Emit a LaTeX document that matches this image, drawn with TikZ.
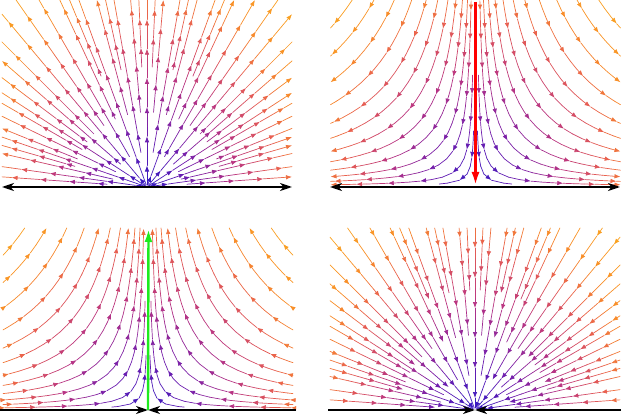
\documentclass[tikz,border=0pt]{standalone}
\usetikzlibrary{arrows.meta}
\definecolor{c0}{RGB}{50,25,195}
\definecolor{c1}{RGB}{115,30,172}
\definecolor{c2}{RGB}{185,52,130}
\definecolor{c3}{RGB}{232,95,80}
\definecolor{c4}{RGB}{248,140,42}
\definecolor{c5}{RGB}{250,168,30}
\definecolor{brightgreen}{RGB}{30,235,30}
\newcount\segc
\def\Wd{145}
\def\Ht{187}
\tikzset{
  sl/.style={draw=sc, line width=0.7pt, line cap=round},
  axisline/.style={line width=1.8pt, draw=black},
  axboth/.style={{Stealth[length=12pt,width=8pt,inset=3.5pt]}-{Stealth[length=12pt,width=8pt,inset=3.5pt]}},
  axone/.style={-{Stealth[length=12pt,width=8pt,inset=3.5pt]}},
  bigarrow/.style={line width=2.4pt, -{Latex[length=13pt,width=8pt]}}
}
\newcommand\sseg[5]{%
  \pgfmathsetmacro\myr{veclen(((#1)+(#3))/2/\Wd,((#2)+(#4))/2/\Ht)}%
  \pgfmathsetmacro\mytq{\myr<0.3 ? \myr/0.3 : (\myr<0.6 ? 1+(\myr-0.3)/0.3 : (\myr<0.9 ? 2+(\myr-0.6)/0.3 : (\myr<1.1 ? 3+(\myr-0.9)/0.2 : min(4.999,4+(\myr-1.1)/0.32))))}%
  \pgfmathtruncatemacro\myi{floor(\mytq)}%
  \pgfmathtruncatemacro\myp{round(100*(\mytq-\myi))}%
  \pgfmathtruncatemacro\myj{\myi+1}%
  \colorlet{sc}{c\myj!\myp!c\myi}%
  \ifcase#5\relax
    \draw[sl] (#1,#2)--(#3,#4);%
  \or
    \draw[sl,-{Latex[length=6pt,width=4.5pt]}] (#1,#2)--(#3,#4);%
  \or
    \draw[sl,{Latex[length=6pt,width=4.5pt]}-] (#1,#2)--(#3,#4);%
  \fi}
\newcommand\ray[4]{%
  \pgfmathsetmacro\rayc{cos(#1)}%
  \pgfmathsetmacro\rays{sin(#1)}%
  \pgfmathsetmacro\rayL{min(\Wd/max(abs(\rayc),0.01),\Ht/max(\rays,0.02))}%
  \pgfmathtruncatemacro\rayn{max(1,ceil((\rayL-(#2))/10))}%
  \pgfmathsetmacro\rayd{(\rayL-(#2))/\rayn}%
  \foreach \k in {1,...,\rayn}{%
    \pgfmathsetmacro\sA{(#2)+(\k-1)*\rayd}%
    \pgfmathsetmacro\sB{(#2)+\k*\rayd}%
    \pgfmathsetmacro\xA{\sA*\rayc}\pgfmathsetmacro\yA{\sA*\rays}%
    \pgfmathsetmacro\xB{\sB*\rayc}\pgfmathsetmacro\yB{\sB*\rays}%
    \pgfmathtruncatemacro\am{mod(\k+(#4),3)==0 ? (#3) : 0}%
    \sseg{\xA}{\yA}{\xB}{\yB}{\am}%
  }}
% c, v0, umax, sign, mode, phase
\newcommand\hyp[6]{%
  \begingroup
  \pgfmathsetmacro\hp{sqrt(#1)}%
  \pgfmathsetmacro\tcur{ln(\hp/(#2))}%
  \pgfmathsetmacro\tend{ln((#3)/\hp)}%
  \pgfmathsetmacro\Xa{(#4)*\Wd*\hp*exp(\tcur)}%
  \pgfmathsetmacro\Ya{\Ht*\hp*exp(-(\tcur))}%
  \segc=#6\relax
  \loop
    \pgfmathsetmacro\hdt{10/(\Wd*veclen(\hp*exp(\tcur),\Ht/\Wd*\hp*exp(-(\tcur))))}%
    \pgfmathsetmacro\tnext{min(\tcur+\hdt,\tend)}%
    \pgfmathsetmacro\Xb{(#4)*\Wd*\hp*exp(\tnext)}%
    \pgfmathsetmacro\Yb{\Ht*\hp*exp(-(\tnext))}%
    \pgfmathtruncatemacro\am{mod(\segc,3)==0 ? (#5) : 0}%
    \sseg{\Xa}{\Ya}{\Xb}{\Yb}{\am}%
    \let\Xa\Xb \let\Ya\Yb \let\tcur\tnext
    \advance\segc by 1
  \ifdim\tcur pt<\tend pt\repeat
  \endgroup}
\newcommand\allrays[1]{%
  \foreach \a/\s [count=\n] in {90/2,70/2,110/2,50/2,130/2,33/2,147/2,19/2,161/2,8/2,172/2,
     80/35,100/35,60/35,120/35,41/35,139/35,26/35,154/35,13/35,167/35,4/40,176/40,
     85/75,95/75,75/75,105/75,65/75,115/75,55/75,125/75,45/75,135/75,37/75,143/75,30/75,150/75,22/75,158/75,16/75,164/75,
     87.5/120,92.5/120,77.5/120,102.5/120,67.5/120,112.5/120}{%
    \ray{\a}{\s}{#1}{\n}}}
\newcommand\allhyps[1]{%
  \foreach \c/\v/\u [count=\n] in {0.004/0.3/0.25,0.012/0.6/1,0.03/1/1,0.055/1/1,0.09/1/1,0.135/1/1,0.19/1/1,0.26/1/1,0.34/1/1,0.44/1/1,0.56/1/1,0.7/1/1,0.85/1/1}{%
    \hyp{\c}{\v}{\u}{1}{#1}{\n}\hyp{\c}{\v}{\u}{-1}{#1}{\n}}}
\begin{document}
\begin{tikzpicture}[x=1pt,y=1pt]
\useasboundingbox (0,0) rectangle (623,415);
% panel A: source
\begin{scope}[shift={(147,228)}]
  \def\Ht{187}
  \clip (-146,0) rectangle (146,188);
  \allrays{1}
\end{scope}
\coordinate (aL) at (2,228); \coordinate (aR) at (292,228);
\draw[axisline,axboth] (aL) -- (aR);
% panel B: saddle, inflow along y
\begin{scope}[shift={(475.5,228)}]
  \def\Ht{187}
  \clip (-146,0) rectangle (146,188);
  \allhyps{1}
\end{scope}
\coordinate (bL) at (330,228); \coordinate (bR) at (620,228);
\draw[axisline,axboth] (bL) -- (bR);
\coordinate (bT) at (475.5,413); \coordinate (bO) at (475.5,230);
\draw[bigarrow,red] (bT) -- (bO);
% panel C: saddle, outflow along y
\begin{scope}[shift={(148,5)}]
  \def\Ht{182}
  \clip (-148,0) rectangle (148,183);
  \allhyps{2}
\end{scope}
\coordinate (cL) at (0,5); \coordinate (cO) at (148,5); \coordinate (cR) at (296,5);
\draw[axisline,axone] (cL) -- (cO);
\draw[axisline,axone] (cR) -- (cO);
\coordinate (cT) at (148.5,186);
\draw[bigarrow,brightgreen] (cO) -- (cT);
% panel D: sink
\begin{scope}[shift={(475,5)}]
  \def\Ht{182}
  \clip (-147,0) rectangle (147,183);
  \allrays{2}
\end{scope}
\coordinate (dL) at (328,5); \coordinate (dO) at (475,5); \coordinate (dR) at (621,5);
\draw[axisline,axone] (dL) -- (dO);
\draw[axisline,axone] (dR) -- (dO);
\end{tikzpicture}
\end{document}
